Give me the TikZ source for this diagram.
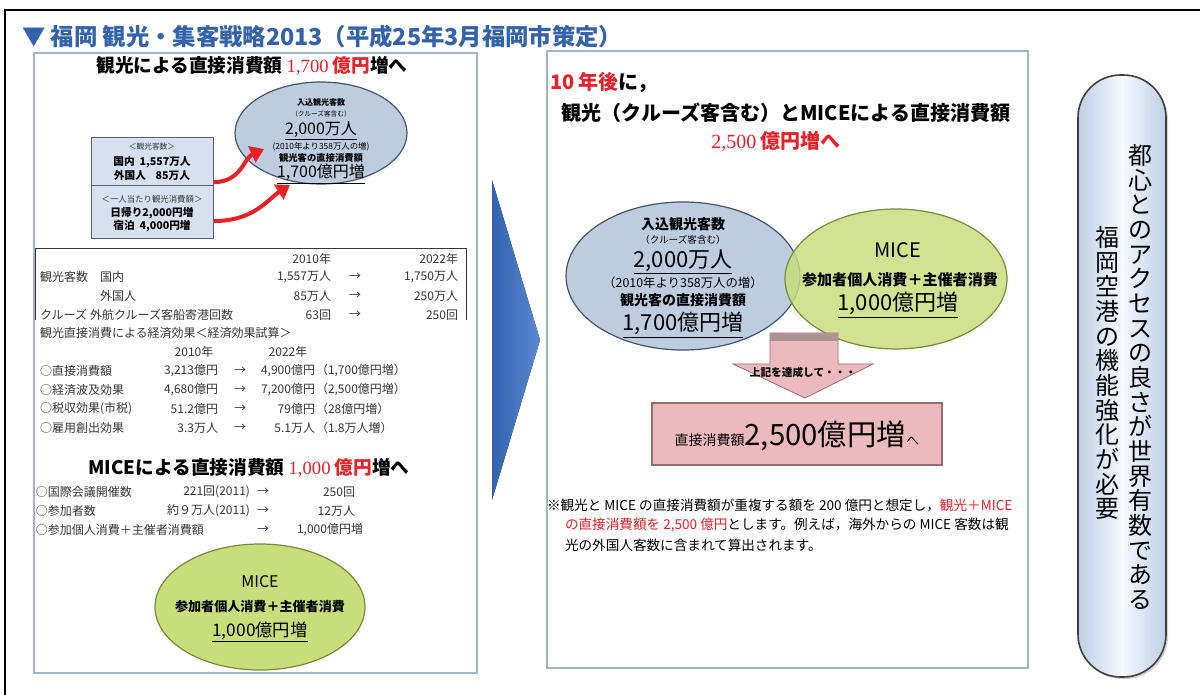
\documentclass[tikz,border=0pt]{standalone}
\usepackage{fontspec}
\setmainfont{Noto Sans CJK JP}
\newfontfamily\numserif{Liberation Serif}
\usetikzlibrary{arrows.meta,shapes.geometric,shadows,calc}
\definecolor{titleblue}{RGB}{52,98,170}
\definecolor{panelline}{RGB}{160,180,205}
\definecolor{ellblue}{RGB}{190,204,224}
\definecolor{ellblueline}{RGB}{70,84,104}
\definecolor{boxfill}{RGB}{214,224,238}
\definecolor{boxline}{RGB}{90,96,108}
\definecolor{ellgreen}{RGB}{200,222,122}
\definecolor{ellgreenline}{RGB}{118,140,58}
\definecolor{pinkfill}{RGB}{236,186,190}
\definecolor{pinkline}{RGB}{150,110,114}
\definecolor{hired}{RGB}{232,32,40}
\definecolor{tabtext}{RGB}{55,55,55}
\definecolor{chevdark}{RGB}{50,98,176}
\definecolor{chevlight}{RGB}{92,136,208}
\definecolor{pillmid}{RGB}{246,249,254}
\definecolor{pilledge}{RGB}{190,207,230}
\newcommand\fsz[1]{\fontsize{#1}{#1}\selectfont}
\begin{document}
\begin{tikzpicture}[x=0.75pt,y=-0.75pt,
  lbl/.style={inner sep=0pt, outer sep=0pt},
  tab/.style={lbl, font=\fsz{9}, text=tabtext},
  panel/.style={draw=panelline, line width=1.2pt, fill=white, anchor=north west, inner sep=0pt},
  infobox/.style={draw=boxline, line width=0.8pt, fill=boxfill, anchor=north west, inner sep=0pt, minimum width=91.5pt},
  bluell/.style={ellipse, draw=ellblueline, line width=0.9pt, fill=ellblue, inner sep=0pt},
  greenell/.style={ellipse, draw=ellgreenline, line width=0.9pt, fill=ellgreen, inner sep=0pt},
  redarrow/.style={draw=hired, line width=3pt, -{Triangle[length=10pt,width=13pt]}},
]
\useasboundingbox (0,0) rectangle (1200,695);
\fill[white] (0,0) rectangle (1200,695);
% outer frame
\draw[black, line width=1pt] (5,695) -- (5,10) -- (1200,10);

% title
\node[lbl, anchor=west, text=titleblue, font=\bfseries\fsz{17.5}] (title) at (22,37) {▼ 福岡 観光・集客戦略2013（平成25年3月福岡市策定）};

% panels
\node[panel, minimum width=332.25pt, minimum height=465pt] (lp) at (33,52) {};
\node[panel, minimum width=360.75pt, minimum height=462.75pt] (rp) at (546,50) {};

% ---------- left panel ----------
\node[lbl, font=\bfseries\fsz{14}] (lh) at (252,66) {観光による直接消費額 {\numserif\mdseries\color{hired}1,700} {\color{hired}億円}増へ};

\node[bluell, minimum width=129pt, minimum height=76.5pt] (e1) at (321,133) {};
\node[lbl, font=\bfseries\fsz{6}] (e1a) at (321,102) {入込観光客数};
\node[lbl, font=\fsz{5}] (e1b) at (321,114) {（クルーズ客含む）};
\node[lbl, font=\fsz{12}] (e1c) at (321,131) {\underline{2,000万人}};
\node[lbl, font=\fsz{6.3}] (e1d) at (321,147) {(2010年より358万人の増)};
\node[lbl, font=\bfseries\fsz{7}] (e1e) at (321,158) {観光客の直接消費額};
\node[lbl, font=\fsz{12}] (e1f) at (321,174) {\underline{1,700億円増}};

\node[infobox, minimum height=36pt] (b1) at (91,137) {};
\node[infobox, minimum height=39.75pt] (b2) at (91,185) {};
\node[lbl, font=\fsz{5.8}, text=tabtext] (b1a) at (152,147) {＜観光客数＞};
\node[lbl, font=\bfseries\fsz{8}] (b1b) at (152,162) {国内\ \ 1,557万人};
\node[lbl, font=\bfseries\fsz{8}] (b1c) at (152,175) {外国人\ \ \ \ 85万人};
\node[lbl, font=\fsz{6.3}, text=tabtext] (b2a) at (152,199) {＜一人当たり観光消費額＞};
\node[lbl, font=\bfseries\fsz{8}] (b2b) at (152,213) {日帰り2,000円増};
\node[lbl, font=\bfseries\fsz{8}] (b2c) at (152,226) {宿泊\ \ 4,000円増};

\coordinate (a1s) at ($(b1.south east)+(0,-4)$);
\coordinate (a1e) at ($(e1.center)+(-57,16)$);
\coordinate (a2s) at ($(b2.east)+(0,9)$);
\coordinate (a2e) at ($(e1.center)+(-31,52)$);
\draw[redarrow] (a1s) .. controls +(27,0) and +(-20,9) .. (a1e);
\draw[redarrow] (a2s) .. controls +(40,0) and +(-22,14) .. (a2e);

% table box
\coordinate (tl) at (35,320);
\coordinate (tr) at (466,320);
\draw[tabtext, line width=0.6pt] (tl) -- (35,248) -- (466,248) -- (tr);
\node[tab, anchor=east] (h1) at (331,259) {2010年};
\node[tab, anchor=east] (h2) at (458,259) {2022年};
\node[tab, anchor=west] (r1a) at (40,277) {観光客数};
\node[tab, anchor=west] (r1b) at (100,277) {国内};
\node[tab, anchor=east] (r1c) at (331,277) {1,557万人};
\node[tab] (r1d) at (355,277) {→};
\node[tab, anchor=east] (r1e) at (458,277) {1,750万人};
\node[tab, anchor=west] (r2b) at (100,296) {外国人};
\node[tab, anchor=east] (r2c) at (331,296) {85万人};
\node[tab] (r2d) at (355,296) {→};
\node[tab, anchor=east] (r2e) at (458,296) {250万人};
\node[tab, anchor=west] (r3a) at (40,315) {クルーズ};
\node[tab, anchor=west] (r3b) at (90,315) {外航クルーズ客船寄港回数};
\node[tab, anchor=east] (r3c) at (331,315) {63回};
\node[tab] (r3d) at (355,315) {→};
\node[tab, anchor=east] (r3e) at (458,315) {250回};

\node[tab, anchor=west] (ec) at (40,333) {観光直接消費による経済効果＜経済効果試算＞};
\node[tab] (eh1) at (194,352) {2010年};
\node[tab] (eh2) at (288,352) {2022年};
\node[tab, anchor=west] (x1a) at (40,371) {○直接消費額};
\node[tab, anchor=east] (x1b) at (218,371) {3,213億円};
\node[tab] (x1c) at (240,371) {→};
\node[tab, anchor=east] (x1d) at (315,371) {4,900億円};
\node[tab, anchor=west] (x1e) at (316,371) {（1,700億円増）};
\node[tab, anchor=west] (x2a) at (40,390) {○経済波及効果};
\node[tab, anchor=east] (x2b) at (218,390) {4,680億円};
\node[tab] (x2c) at (240,390) {→};
\node[tab, anchor=east] (x2d) at (315,390) {7,200億円};
\node[tab, anchor=west] (x2e) at (316,390) {（2,500億円増）};
\node[tab, anchor=west] (x3a) at (40,409) {○税収効果(市税)};
\node[tab, anchor=east] (x3b) at (218,409) {51.2億円};
\node[tab] (x3c) at (240,409) {→};
\node[tab, anchor=east] (x3d) at (315,409) {79億円};
\node[tab, anchor=west] (x3e) at (316,409) {（28億円増）};
\node[tab, anchor=west] (x4a) at (40,428) {○雇用創出効果};
\node[tab, anchor=east] (x4b) at (218,428) {3.3万人};
\node[tab] (x4c) at (240,428) {→};
\node[tab, anchor=east] (x4d) at (315,428) {5.1万人};
\node[tab, anchor=west] (x4e) at (316,428) {（1.8万人増）};

% MICE section
\node[lbl, font=\bfseries\fsz{14}] (mh) at (249,468) {MICEによる直接消費額 {\numserif\mdseries\color{hired}1,000} {\color{hired}億円}増へ};
\node[tab, anchor=west] (m1a) at (36,492) {○国際会議開催数};
\node[tab, anchor=east] (m1b) at (250,492) {221回(2011)};
\node[tab] (m1c) at (263,492) {→};
\node[tab, anchor=east] (m1d) at (355,492) {250回};
\node[tab, anchor=west] (m2a) at (36,511) {○参加者数};
\node[tab, anchor=east] (m2b) at (250,511) {約９万人(2011)};
\node[tab] (m2c) at (263,511) {→};
\node[tab, anchor=east] (m2d) at (355,511) {12万人};
\node[tab, anchor=west] (m3a) at (36,530) {○参加個人消費＋主催者消費額};
\node[tab] (m3c) at (263,530) {→};
\node[tab, anchor=east] (m3d) at (363,530) {1,000億円増};

\node[greenell, minimum width=157.5pt, minimum height=94.5pt] (em) at (260,607) {};
\node[lbl, font=\fsz{12}] (ema) at (260,582) {MICE};
\node[lbl, font=\bfseries\fsz{9.8}] (emb) at (260,607) {参加者個人消費＋主催者消費};
\node[lbl, font=\fsz{13}] (emc) at (260,632) {\underline{1,000億円増}};

% chevron
\fill[left color=chevdark, right color=chevlight] (492,180) -- (540,340) -- (492,500) -- cycle;

% ---------- right panel ----------
\node[lbl, anchor=west, font=\bfseries\fsz{15}] (rh1) at (550,82) {{\color{hired}10 年後}に，};
\node[lbl, font=\bfseries\fsz{15}] (rh2) at (786,113) {観光（クルーズ客含む）とMICEによる直接消費額};
\node[lbl, font=\fsz{15}, text=hired] (rh3) at (776,141) {{\numserif 2,500} {\bfseries 億円増へ}};

\node[bluell, minimum width=175.5pt, minimum height=111pt] (eb) at (683,276) {};
\node[greenell, fill opacity=0.82, minimum width=166.5pt, minimum height=105pt] (eg) at (896,279) {};
\node[lbl, font=\bfseries\fsz{10.5}] (eba) at (683,224) {入込観光客数};
\node[lbl, font=\fsz{7.2}] (ebb) at (683,240) {（クルーズ客含む）};
\node[lbl, font=\fsz{16.5}] (ebc) at (683,262) {\underline{2,000万人}};
\node[lbl, font=\fsz{9.3}] (ebd) at (683,283) {（2010年より358万人の増）};
\node[lbl, font=\bfseries\fsz{10.5}] (ebe) at (683,300) {観光客の直接消費額};
\node[lbl, font=\fsz{16.5}] (ebf) at (683,325) {\underline{1,700億円増}};
\node[lbl, font=\fsz{15}] (ega) at (898,250) {MICE};
\node[lbl, font=\bfseries\fsz{11.3}] (egb) at (900,280) {参加者個人消費＋主催者消費};
\node[lbl, font=\fsz{16.5}] (egc) at (898,305) {\underline{1,000億円増}};

% pink block arrow
\filldraw[fill=pinkfill, draw=pinkline, line width=0.6pt] (770,333) -- (838,333) -- (838,364) -- (873,364) -- (805,398) -- (733,364) -- (770,364) -- cycle;
\fill[pinkline!75] (770,333) rectangle (838,341);
\node[lbl, font=\bfseries\fsz{8}] (pa) at (803,372) {上記を達成して・・・};

\node[draw=pinkline, line width=0.8pt, fill=pinkfill, minimum width=217.5pt, minimum height=46.5pt, inner sep=0pt] (pb) at (797,434) {};
\node[lbl] (pbt) at (797,436) {{\fsz{10.5}直接消費額}{\fsz{22}2,500億円増}{\fsz{10}へ}};

\node[lbl, anchor=west, font=\fsz{10.2}] (n1) at (547,505) {※観光と MICE の直接消費額が重複する額を 200 億円と想定し，{\color{hired}観光＋MICE}};
\node[lbl, anchor=west, font=\fsz{10.2}] (n2) at (565,525) {{\color{hired}の直接消費額を 2,500 億円}とします。例えば，海外からの MICE 客数は観};
\node[lbl, anchor=west, font=\fsz{10.2}] (n3) at (565,545) {光の外国人客数に含まれて算出されます。};

% ---------- pill ----------
\node[draw=black!75, line width=1.2pt, left color=pilledge, right color=pilledge, middle color=pillmid, rounded corners=32pt, minimum width=66pt, minimum height=451.5pt, drop shadow={shadow xshift=1.5pt, shadow yshift=-1.5pt, opacity=0.35}] (pill) at (1122,376) {};
\node[lbl, font=\fontsize{18}{18.5}\selectfont, align=center] (pt1) at (1140,377) {都\\心\\と\\の\\ア\\ク\\セ\\ス\\の\\良\\さ\\が\\世\\界\\有\\数\\で\\あ\\る};
\node[lbl, font=\fontsize{18}{18.5}\selectfont, align=center] (pt2) at (1107,373) {福\\岡\\空\\港\\の\\機\\能\\強\\化\\が\\必\\要};
\end{tikzpicture}
\end{document}
